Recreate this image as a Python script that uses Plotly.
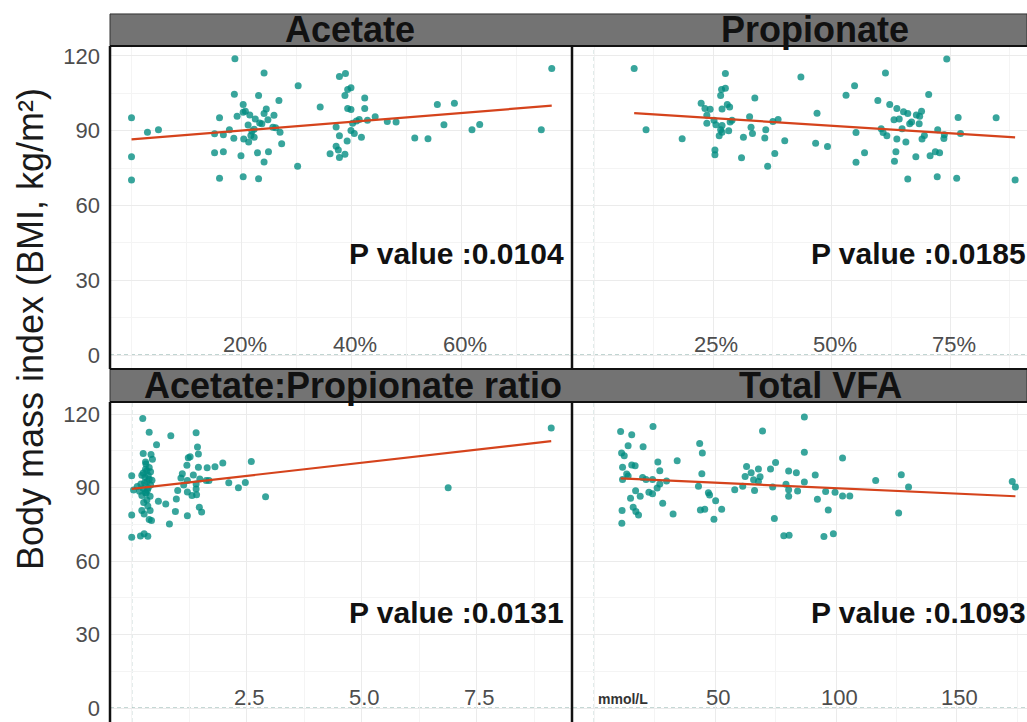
import plotly.graph_objects as go

W, H = 1027, 722

# ---------------- data ----------------
acetate_pct = [0, 0, 0, 2.9, 4.9, 18.8, 24.1, 30.3, 18.7, 23.1, 26.8, 20.3, 20.7, 20.3, 21.5, 19.2, 16.0,
               24.1, 24.5, 25.9, 24.8, 22.5, 23.7, 21.2, 23.3, 25.7, 26.2, 22.3, 21.9, 27.0, 17.8, 15.1,
               16.7, 21.7, 18.6, 20.4, 21.3, 27.3, 22.3, 15.1, 16.7, 19.9, 22.9, 24.9, 24.1, 30.2, 16.0,
               20.3, 23.1, 34.3,
               37.8, 38.9, 39.9, 39.3, 38.8, 42.4, 39.3, 39.9, 42.4, 44.3, 41.4, 40.9, 40.2, 42.9, 46.5,
               48.1, 37.2, 39.9, 40.5, 37.8, 41.8, 37.2, 37.6, 39.2, 38.8, 37.8, 36.1, 51.5, 53.9, 55.6,
               58.7, 56.8, 61.9, 63.3, 74.5, 76.4]
acetate_bmi = [95.2, 79.5, 70.2, 89.4, 90.4, 118.8, 113.1, 108.0, 104.6, 104.1, 102.1, 100.5, 97.8, 97.4,
               96.3, 95.8, 95.2, 96.9, 98.7, 96.2, 94.4, 94.7, 92.8, 92.3, 93.1, 91.4, 91.2, 90.6, 89.8,
               89.4, 90.4, 88.8, 88.4, 88.1, 86.9, 86.6, 85.4, 84.7, 87.4, 81.1, 81.5, 79.9, 81.1, 81.5,
               77.4, 75.7, 70.9, 71.5, 70.7, 99.5,
               111.7, 112.9, 107.2, 106.5, 104.1, 103.1, 98.9, 98.5, 98.9, 95.6, 94.5, 93.9, 93.0, 94.2,
               93.7, 93.5, 91.5, 90.1, 88.9, 88.0, 87.4, 83.7, 82.2, 85.8, 80.5, 79.2, 80.7, 87.0, 86.7,
               100.5, 101.0, 92.4, 90.4, 92.5, 90.4, 114.9]

propionate_pct = [8.4, 10.9, 18.5, 27.6, 27.6, 26.8, 26.6, 22.5, 23.3, 24.4, 26.9, 28.0, 28.5, 23.7, 23.7,
                  25.2, 25.6, 26.9, 29.0, 28.6, 26.6, 26.9, 26.3, 28.3, 25.4, 25.4, 31.0, 31.4, 33.0,
                  33.3, 33.8, 32.7, 36.1, 35.9, 37.6, 38.7, 40.1, 38.0, 36.5, 43.5, 46.9, 46.6,
                  49.1, 53.0, 54.8, 61.3, 55.1, 56.9, 55.1, 59.7, 62.2, 63.7, 65.1, 66.0, 63.1, 64.2,
                  60.4, 60.8, 61.6, 63.7, 64.8, 65.6, 63.5, 63.2, 67.7, 66.0, 66.4, 66.8, 67.8, 68.5,
                  68.9, 68.4, 70.4, 69.5, 69.0, 72.3, 73.7, 73.6, 70.7, 71.8, 72.7, 72.2, 74.2, 76.3,
                  76.6, 77.1, 84.6, 88.6]
propionate_bmi = [114.9, 90.4, 86.7, 112.9, 107.0, 106.5, 104.1, 101.0, 98.9, 98.6, 98.7, 100.5, 99.5,
                  96.2, 93.0, 94.2, 92.4, 92.1, 94.2, 93.5, 90.4, 89.4, 88.0, 90.0, 82.2, 80.3, 79.1,
                  87.4, 91.4, 88.9, 103.1, 95.6, 90.4, 87.0, 93.7, 94.5, 85.9, 80.8, 75.7, 111.5, 97.0,
                  84.9,
                  83.6, 104.2, 108.0, 113.1, 89.3, 81.1, 77.3, 102.1, 100.5, 98.9, 97.6, 96.9, 94.4,
                  94.7, 90.8, 89.3, 88.0, 86.6, 90.8, 85.4, 81.5, 77.7, 79.5, 70.6, 92.8, 93.5, 96.3,
                  95.8, 97.8, 92.8, 104.5, 88.1, 86.6, 90.4, 88.4, 86.8, 79.9, 81.5, 81.1, 71.5, 118.7,
                  70.9, 95.3, 88.9, 95.2, 70.2]

ratio_val = [0.0, 0.0, 0.0, 0.04, 0.24, 0.38, 0.54, 0.25, 0.42, 0.45, 0.31, 0.38, 0.22, 0.33, 0.41,
             0.29, 0.38, 0.33, 0.41, 0.25, 0.17, 0.31, 0.22, 0.33, 0.22, 0.40, 0.27, 0.38, 0.43, 0.19,
             0.27, 0.35, 0.85, 0.58, 0.74, 0.82, 0.95, 0.97, 1.00, 1.07, 1.10, 1.13, 1.20, 1.21, 1.23,
             1.27, 1.21, 1.21, 1.31, 1.40, 1.43, 1.45, 1.45, 1.40, 1.41, 1.40, 1.34, 1.48, 1.47, 1.52,
             1.62, 1.68, 1.64, 1.81, 1.98, 2.11, 2.32, 2.47, 2.60, 2.91, 6.88, 9.12,
             0.30, 0.36, 0.28, 0.36, 0.30, 0.40, 0.26, 0.35, 0.44, 0.20, 0.12, 0.30, 0.34, 0.25]
ratio_bmi = [94.9, 78.9, 69.8, 89.1, 118.3, 112.7, 107.5, 104.0, 103.6, 101.6, 99.7, 98.3, 95.1, 96.9,
             96.5, 94.3, 93.5, 92.4, 91.1, 89.7, 88.6, 87.7, 86.8, 85.0, 80.7, 80.7, 79.3, 77.0, 76.6,
             70.3, 71.2, 70.2, 111.2, 84.5, 83.3, 75.2, 80.3, 85.4, 88.9, 94.0, 95.7, 91.1, 99.2, 92.9,
             102.2, 102.6, 88.2, 78.5, 86.8, 112.4, 106.6, 103.8, 98.4, 89.5, 87.1, 91.5, 95.2, 93.6,
             82.0, 80.1, 92.9, 92.9, 98.1, 98.6, 100.1, 92.0, 90.0, 92.1, 100.7, 86.3, 90.0, 114.4,
             97.5, 95.0, 92.0, 90.0, 88.0, 86.5, 84.0, 82.5, 93.0, 91.5, 90.5, 100.5, 89.0, 96.0]

vfa_mmol = [10.9, 15.5, 24.3, 20.2, 14.0, 11.3, 12.4, 11.7, 15.5, 16.9, 13.4, 14.0, 11.7, 20.0, 21.4,
            24.1, 26.3, 27.1, 29.9, 27.1, 26.0, 22.6, 24.1, 17.1, 19.0, 15.0, 28.3, 16.1, 17.2, 18.3,
            11.5, 11.4, 34.3, 32.6, 43.6, 44.7, 44.5, 43.1, 47.2, 47.7, 50.2, 52.7, 45.7, 43.9, 49.5,
            58.1, 61.4, 62.4, 63.0, 64.9, 65.9, 66.3, 67.9, 68.6, 67.9, 69.6, 72.9, 75.0, 73.8, 74.5,
            78.4, 80.6, 79.3, 80.4, 80.4, 80.4, 84.1, 83.6, 86.9, 86.9, 86.9, 91.4, 92.3,
            95.7, 96.8, 99.6, 102.7, 102.7, 105.7, 95.0, 98.9, 116.4, 127.0, 130.0, 125.9, 172.9, 174.2]
vfa_bmi = [113.0, 111.6, 115.0, 106.7, 107.1, 104.2, 103.0, 98.4, 99.3, 99.0, 95.6, 94.8, 93.4, 94.2,
           93.4, 93.4, 100.5, 96.9, 92.7, 91.5, 89.9, 88.1, 87.5, 88.8, 86.5, 85.7, 83.6, 82.0, 80.3,
           78.9, 80.7, 75.5, 101.0, 79.3, 108.1, 104.2, 95.7, 90.6, 87.9, 87.0, 84.7, 81.2, 81.2, 80.9,
           77.1, 89.2, 90.6, 94.6, 98.7, 96.1, 93.2, 88.9, 97.6, 94.5, 92.5, 113.2, 97.6, 100.3, 90.3,
           77.4, 70.4, 70.6, 91.4, 89.2, 86.5, 96.8, 88.7, 96.1, 118.9, 104.5, 92.3, 95.2, 85.3,
           88.4, 80.9, 88.1, 102.1, 86.6, 86.6, 70.1, 71.2, 92.9, 95.3, 90.3, 79.7, 92.5, 90.3]

# fitted regression lines (end points)
acetate_fit_x, acetate_fit_y = [0, 76.4], [86.5, 100.0]
propionate_fit_x, propionate_fit_y = [8.4, 88.6], [97.0, 87.3]
ratio_fit_x, ratio_fit_y = [0, 9.12], [89.5, 109.0]
vfa_fit_x, vfa_fit_y = [10.9, 174.2], [93.8, 86.5]

panel_titles = ["Acetate", "Propionate", "Acetate:Propionate ratio", "Total VFA"]
p_values = ["0.0104", "0.0185", "0.0131", "0.1093"]
y_ticks = [0, 30, 60, 90, 120]
acetate_ticks = [20, 40, 60]
propionate_ticks = [25, 50, 75]
ratio_ticks = [2.5, 5.0, 7.5]
vfa_ticks = [50, 100, 150]
y_title = "Body mass index (BMI, kg/m²)"
vfa_unit = "mmol/L"

# ---------------- styling ----------------
FONT = "Liberation Sans, Arial, Helvetica, sans-serif"
POINT = "rgba(0,140,128,0.78)"
LINE = "#d5431c"
STRIP = "#737373"
GRID = "#ebebeb"
GRID_MINOR = "#f4f4f4"
ZERO = "#7fa8a3"
TICKTXT = "#4d4d4d"


def fx(p):
    return p / W


def fy(p):
    return 1 - p / H


left_dom = [fx(110), fx(571)]
right_dom = [fx(573), 1.0]
top_dom = [fy(368), fy(44)]
bot_dom = [0.0, fy(401)]

panels = [
    dict(x=acetate_pct, y=acetate_bmi, fxs=acetate_fit_x, fys=acetate_fit_y, xa="x", ya="y",
         ticks=acetate_ticks, fmt=lambda v: f"{v}%", label_y=4.4),
    dict(x=propionate_pct, y=propionate_bmi, fxs=propionate_fit_x, fys=propionate_fit_y, xa="x2",
         ya="y2", ticks=propionate_ticks, fmt=lambda v: f"{v}%", label_y=4.4),
    dict(x=ratio_val, y=ratio_bmi, fxs=ratio_fit_x, fys=ratio_fit_y, xa="x3", ya="y3",
         ticks=ratio_ticks, fmt=lambda v: f"{v:.1f}", label_y=4.5),
    dict(x=vfa_mmol, y=vfa_bmi, fxs=vfa_fit_x, fys=vfa_fit_y, xa="x4", ya="y4",
         ticks=vfa_ticks, fmt=lambda v: f"{v}", label_y=4.5),
]

fig = go.Figure()
for p in panels:
    fig.add_trace(go.Scatter(x=p["x"], y=p["y"], mode="markers", xaxis=p["xa"], yaxis=p["ya"],
                             marker=dict(size=7, color=POINT, line=dict(width=0)),
                             showlegend=False, hoverinfo="skip"))
    fig.add_trace(go.Scatter(x=p["fxs"], y=p["fys"], mode="lines", xaxis=p["xa"], yaxis=p["ya"],
                             line=dict(color=LINE, width=2.2), showlegend=False, hoverinfo="skip"))


def xaxis(domain, rng, tickvals, minor_vals, anchor):
    return dict(domain=domain, range=rng, anchor=anchor, tickmode="array", tickvals=tickvals,
                showticklabels=False, showgrid=True, gridcolor=GRID, gridwidth=1,
                zeroline=False, showline=False, ticks="",
                minor=dict(tickmode="array", tickvals=minor_vals, showgrid=True,
                           gridcolor=GRID_MINOR, gridwidth=1),
                fixedrange=True)


def yaxis(domain, rng, anchor, labels):
    return dict(domain=domain, range=rng, anchor=anchor, tickmode="array", tickvals=y_ticks,
                showticklabels=labels, showgrid=True, gridcolor=GRID, zeroline=False,
                showline=False, ticks="", ticklabelstandoff=9,
                tickfont=dict(family=FONT, size=22, color=TICKTXT),
                minor=dict(tickmode="array", tickvals=[15, 45, 75, 105], showgrid=True,
                           gridcolor=GRID_MINOR, gridwidth=1),
                fixedrange=True)


fig.update_layout(
    xaxis=xaxis(left_dom, [-3.91, 79.9], acetate_ticks, [0, 10, 30, 50, 70], "y"),
    xaxis2=xaxis(right_dom, [-4.48, 91.1], propionate_ticks, [0, 12.5, 37.5, 62.5, 87.5], "y2"),
    xaxis3=xaxis(left_dom, [-0.472, 9.55], ratio_ticks, [0, 1.25, 3.75, 6.25, 8.75], "y3"),
    xaxis4=xaxis(right_dom, [-8.8, 179.0], vfa_ticks, [0, 25, 75, 125, 175], "y4"),
    yaxis=yaxis(top_dom, [-5.6, 124], "x", True),
    yaxis2=yaxis(top_dom, [-5.6, 124], "x2", False),
    yaxis3=yaxis(bot_dom, [-5.7, 125.05], "x3", True),
    yaxis4=yaxis(bot_dom, [-5.7, 125.05], "x4", False),
)

shapes = []
# dashed zero reference lines inside each panel
for p in panels:
    shapes.append(dict(type="line", xref=p["xa"], yref=p["ya"] + " domain", x0=0, x1=0, y0=0, y1=1,
                       line=dict(color=ZERO, width=1, dash="4px,3px"), layer="below"))
    shapes.append(dict(type="line", xref=p["xa"] + " domain", yref=p["ya"], x0=0, x1=1, y0=0, y1=0,
                       line=dict(color=ZERO, width=1, dash="4px,3px"), layer="below"))

# facet strips
for top, bottom in [(12, 44), (368, 401)]:
    shapes.append(dict(type="rect", xref="paper", yref="paper", x0=fx(110), x1=1.0,
                       y0=fy(bottom), y1=fy(top), fillcolor=STRIP,
                       line=dict(color="#333333", width=1)))

# panel borders
black = dict(color="#111111", width=2.5)
for x in (110, 572):
    shapes.append(dict(type="line", xref="paper", yref="paper", x0=fx(x), x1=fx(x),
                       y0=fy(368), y1=fy(44), line=black))
    shapes.append(dict(type="line", xref="paper", yref="paper", x0=fx(x), x1=fx(x),
                       y0=0, y1=fy(401), line=black))
for y in (44, 368, 401):
    shapes.append(dict(type="line", xref="paper", yref="paper", x0=fx(110), x1=1.0,
                       y0=fy(y), y1=fy(y), line=dict(color="#111111", width=2)))

annotations = []
# x tick labels sit inside each panel, just above the zero line
for p in panels:
    for v in p["ticks"]:
        annotations.append(dict(text=p["fmt"](v), xref=p["xa"], yref=p["ya"], x=v, y=p["label_y"],
                                xanchor="center", yanchor="middle", showarrow=False, xshift=3,
                                font=dict(family=FONT, size=22, color=TICKTXT)))

# strip titles
strip_pos = [(350, 28), (815, 28), (353, 385), (820, 385)]
for title, (cx, cy) in zip(panel_titles, strip_pos):
    annotations.append(dict(text=f"<b>{title}</b>", xref="paper", yref="paper", x=fx(cx), y=fy(cy),
                            xanchor="center", yanchor="middle", showarrow=False,
                            font=dict(family=FONT, size=36, color="#111111")))

# P-value labels, placed in data space of each panel
p_pos = [(59.1, 40.8), (68.3, 40.8), (7.05, 39.1), (134.1, 39.1)]
for p, pv, (px_, py_) in zip(panels, p_values, p_pos):
    annotations.append(dict(text=f"<b>P value :{pv}</b>", xref=p["xa"], yref=p["ya"], x=px_, y=py_,
                            xanchor="center", yanchor="middle", showarrow=False,
                            font=dict(family=FONT, size=30, color="#111111")))

# unit label on the Total VFA axis
annotations.append(dict(text=f"<b>{vfa_unit}</b>", xref="x4", yref="y4", x=12, y=3.5,
                        xanchor="center", yanchor="middle", showarrow=False,
                        font=dict(family=FONT, size=14, color="#333333")))

# shared y-axis title
annotations.append(dict(text=y_title, xref="paper", yref="paper", x=fx(30), y=fy(328),
                        xanchor="center", yanchor="middle", textangle=-90, showarrow=False,
                        font=dict(family=FONT, size=36, color="#1a1a1a")))

fig.update_layout(
    width=W, height=H, margin=dict(l=0, r=0, t=0, b=0),
    paper_bgcolor="white", plot_bgcolor="white",
    shapes=shapes, annotations=annotations, showlegend=False,
)

fig.write_html("out.html", config={"displayModeBar": False})
